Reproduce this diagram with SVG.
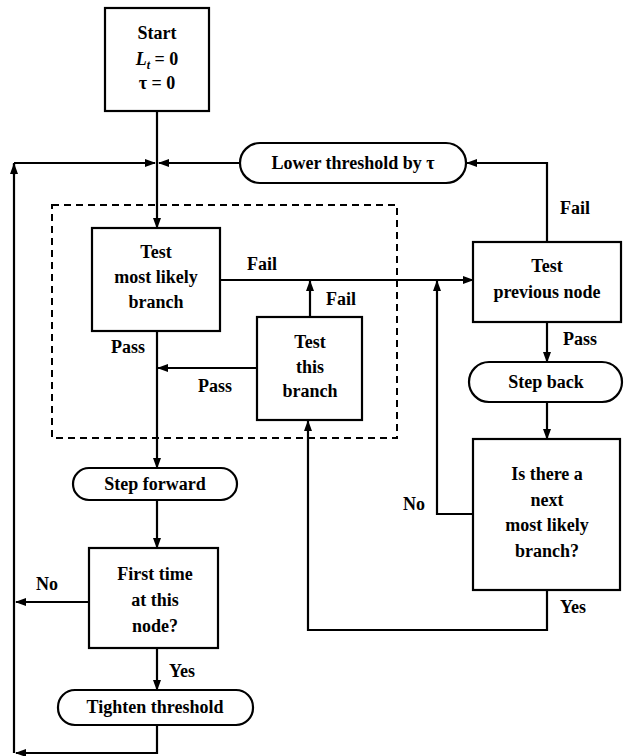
<svg xmlns="http://www.w3.org/2000/svg" width="625" height="756" viewBox="0 0 625 756">
<style>
.box{fill:#fff;stroke:#000;stroke-width:2.2}
.dash{fill:none;stroke:#000;stroke-width:2;stroke-dasharray:7,5}
.c{fill:none;stroke:#000;stroke-width:2.2}
text{font-family:"Liberation Serif","Times New Roman",serif;font-size:18px;font-weight:bold;fill:#000;text-anchor:middle}
</style>
<defs>
<marker id="ah" markerUnits="userSpaceOnUse" markerWidth="11" markerHeight="8" refX="10" refY="4" orient="auto">
<path d="M0,0 L11,4 L0,8 z" fill="#000"/>
</marker>
</defs>
<rect class="dash" x="52" y="205" width="345" height="233"/>
<g id="connectors">
<path class="c" d="M157,111 V228" marker-end="url(#ah)"/>
<path class="c" d="M157,725 V753 H16" marker-end="url(#ah)"/>
<path class="c" d="M14,753 V163"/>
<path class="c" d="M14,175 V164" marker-end="url(#ah)"/>
<path class="c" d="M14,163 H155" marker-end="url(#ah)"/>
<path class="c" d="M240,163 H159" marker-end="url(#ah)"/>
<path class="c" d="M547,242 V163 H467" marker-end="url(#ah)"/>
<path class="c" d="M220,280 H473" marker-end="url(#ah)"/>
<path class="c" d="M310,317 V281" marker-end="url(#ah)"/>
<path class="c" d="M257,368 H158" marker-end="url(#ah)"/>
<path class="c" d="M157,331 V468" marker-end="url(#ah)"/>
<path class="c" d="M157,500 V548" marker-end="url(#ah)"/>
<path class="c" d="M157,648 V690" marker-end="url(#ah)"/>
<path class="c" d="M89,602 H16" marker-end="url(#ah)"/>
<path class="c" d="M547,322 V362" marker-end="url(#ah)"/>
<path class="c" d="M547,402 V439" marker-end="url(#ah)"/>
<path class="c" d="M473,514 H437 V281" marker-end="url(#ah)"/>
<path class="c" d="M547,590 V630 H308 V421" marker-end="url(#ah)"/>
</g>
<g id="start">
<rect class="box" x="105" y="8" width="104" height="103"/>
<text x="157" y="39">Start</text>
<text x="157" y="65"><tspan font-style="italic">L</tspan><tspan font-style="italic" font-size="12" dy="4">t</tspan><tspan dy="-4"> = 0</tspan></text>
<text x="157" y="89">τ = 0</text>
</g>
<g id="lower">
<rect class="box" x="240" y="143" width="226" height="40" rx="20"/>
<text x="353" y="169">Lower threshold by  τ</text>
</g>
<g id="testMost">
<rect class="box" x="92" y="228" width="128" height="103"/>
<text x="156" y="258">Test</text>
<text x="156" y="283">most likely</text>
<text x="156" y="308">branch</text>
</g>
<g id="testThis">
<rect class="box" x="257" y="317" width="105" height="103"/>
<text x="310" y="348">Test</text>
<text x="310" y="373">this</text>
<text x="310" y="397">branch</text>
</g>
<g id="testPrev">
<rect class="box" x="473" y="242" width="148" height="80"/>
<text x="547" y="272">Test</text>
<text x="547" y="298">previous node</text>
</g>
<g id="stepBack">
<rect class="box" x="469" y="362" width="153" height="40" rx="20"/>
<text x="546" y="388">Step back</text>
</g>
<g id="isNext">
<rect class="box" x="473" y="439" width="147" height="151"/>
<text x="547" y="480">Is there a</text>
<text x="547" y="506">next</text>
<text x="547" y="531">most likely</text>
<text x="547" y="557">branch?</text>
</g>
<g id="stepForward">
<rect class="box" x="73" y="468" width="164" height="32" rx="16"/>
<text x="155" y="490">Step forward</text>
</g>
<g id="firstTime">
<rect class="box" x="89" y="548" width="129" height="100"/>
<text x="155" y="580">First time</text>
<text x="155" y="606">at this</text>
<text x="155" y="632">node?</text>
</g>
<g id="tighten">
<rect class="box" x="58" y="690" width="195" height="35" rx="17"/>
<text x="155" y="713">Tighten threshold</text>
</g>
<g id="labels">
<text x="575" y="214">Fail</text>
<text x="262" y="270">Fail</text>
<text x="341" y="305">Fail</text>
<text x="128" y="353">Pass</text>
<text x="215" y="392">Pass</text>
<text x="580" y="345">Pass</text>
<text x="47" y="590">No</text>
<text x="414" y="510">No</text>
<text x="182" y="677">Yes</text>
<text x="573" y="613">Yes</text>
</g>
</svg>
